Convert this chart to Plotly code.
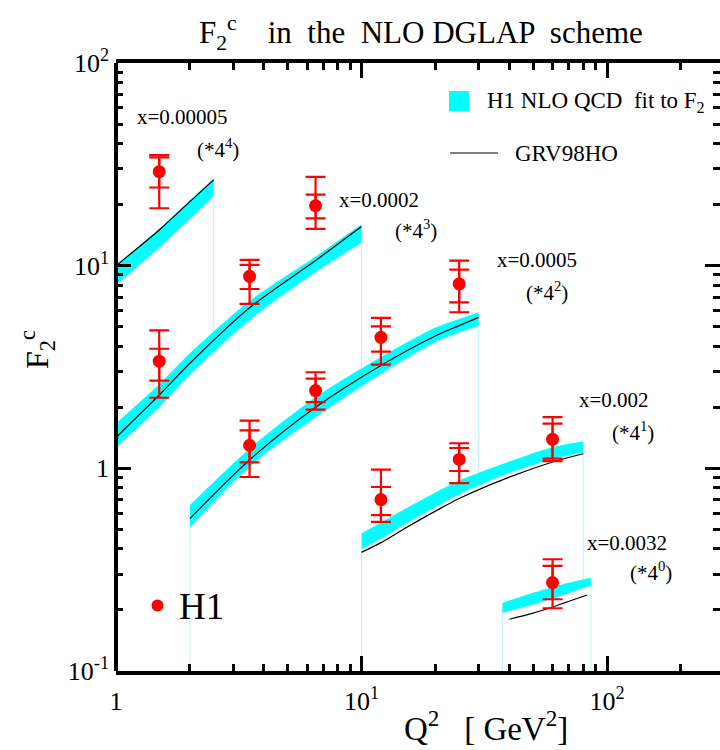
import plotly.graph_objects as go

# ---------------------------------------------------------------------------
# Figure geometry (pixels)
W, H = 720, 750
L, T = 116, 63
PW, PH = 604, 608
X_SPAN = PW / 245.5          # decades of Q^2 shown
SERIF = "Liberation Serif"

# ---------------------------------------------------------------------------
# H1 NLO QCD fit bands (upper / lower edge) and GRV98HO curves, F2c * 4^n
g1_q2 = [1.0, 1.5, 2.0, 2.5]
g1_fit_hi = [10.0, 15.2, 21.0, 27.0]
g1_fit_lo = [8.0, 12.3, 17.0, 22.1]
g1_grv = [10.0, 15.0, 20.7, 26.5]

g2_q2 = [1.0, 1.5, 2.0, 3.5, 6.5, 10.0]
g2_fit_hi = [1.67, 2.6, 3.7, 6.7, 11.1, 16.0]
g2_fit_lo = [1.27, 2.0, 2.9, 5.4, 9.3, 13.0]
g2_grv = [1.42, 2.3, 3.3, 6.2, 10.6, 15.6]

g3_q2 = [2.0, 3.5, 6.5, 12.0, 20.0, 25.0, 30.0]
g3_fit_hi = [0.66, 1.25, 2.24, 3.54, 4.95, 5.46, 5.89]
g3_fit_lo = [0.51, 1.02, 1.79, 2.93, 4.2, 4.69, 5.06]
g3_grv = [0.565, 1.10, 2.0, 3.22, 4.5, 5.06, 5.56]

g4_q2 = [10.0, 12.0, 15.0, 20.0, 25.0, 40.0, 60.0, 80.0]
g4_fit_hi = [0.477, 0.54, 0.63, 0.76, 0.87, 1.08, 1.27, 1.36]
g4_fit_lo = [0.40, 0.45, 0.53, 0.645, 0.745, 0.95, 1.115, 1.20]
g4_grv = [0.385, 0.43, 0.505, 0.615, 0.71, 0.905, 1.075, 1.18]

g5_q2 = [37.5, 50.0, 60.0, 86.0]
g5_fit_hi = [0.217, 0.243, 0.260, 0.289]
g5_fit_lo = [0.194, 0.213, 0.228, 0.265]
g5_grv_q2 = [40.0, 50.0, 60.0, 83.0]
g5_grv = [0.180, 0.193, 0.207, 0.237]

# ---------------------------------------------------------------------------
# H1 charm data: value, stat (inner) and total (outer) error edges
d1_q2 = [1.5]
d1_f2 = [29.1]
d1_tot_hi = [35.1]
d1_stat_hi = [34.2]
d1_stat_lo = [24.3]
d1_tot_lo = [19.2]

d2_q2 = [1.5, 3.5, 6.5]
d2_f2 = [3.38, 8.86, 19.75]
d2_tot_hi = [4.79, 10.67, 27.4]
d2_stat_hi = [3.89, 10.08, 22.4]
d2_stat_lo = [2.71, 7.67, 17.1]
d2_tot_lo = [2.23, 6.48, 15.2]

d3_q2 = [3.5, 6.5, 12.0, 25.0]
d3_f2 = [1.30, 2.42, 4.43, 8.13]
d3_tot_hi = [1.72, 2.98, 5.53, 10.6]
d3_stat_hi = [1.54, 2.77, 5.02, 9.55]
d3_stat_lo = [1.07, 2.12, 3.77, 6.59]
d3_tot_lo = [0.906, 1.95, 3.25, 5.89]

d4_q2 = [12.0, 25.0, 60.0]
d4_f2 = [0.701, 1.107, 1.39]
d4_tot_hi = [0.985, 1.33, 1.79]
d4_stat_hi = [0.809, 1.26, 1.66]
d4_stat_lo = [0.587, 0.97, 1.116]
d4_tot_lo = [0.544, 0.846, 1.086]

d5_q2 = [60.0]
d5_f2 = [0.273]
d5_tot_hi = [0.356]
d5_stat_hi = [0.330]
d5_stat_lo = [0.226]
d5_tot_lo = [0.204]

# Bin labels and scale factors
bin_labels = ["x=0.00005", "x=0.0002", "x=0.0005", "x=0.002", "x=0.0032"]
bin_scales = ["(*4<sup>4</sup>)", "(*4<sup>3</sup>)", "(*4<sup>2</sup>)",
              "(*4<sup>1</sup>)", "(*4<sup>0</sup>)"]

x_tickvals = [1, 10, 100]
x_ticktext = ["1", "10<sup>1</sup>", "10<sup>2</sup>"]
y_tickvals = [0.1, 1, 10, 100]
y_ticktext = ["10<sup>-1</sup>", "1", "10<sup>1</sup>", "10<sup>2</sup>"]

Y_FLOOR = 0.05  # below the visible range, used to close the outlines

bands = [
    (g1_q2, g1_fit_hi, g1_fit_lo),
    (g2_q2, g2_fit_hi, g2_fit_lo),
    (g3_q2, g3_fit_hi, g3_fit_lo),
    (g4_q2, g4_fit_hi, g4_fit_lo),
    (g5_q2, g5_fit_hi, g5_fit_lo),
]
grv_curves = [
    (g1_q2, g1_grv), (g2_q2, g2_grv), (g3_q2, g3_grv),
    (g4_q2, g4_grv), (g5_grv_q2, g5_grv),
]
data_sets = [
    (d1_q2, d1_f2, d1_tot_hi, d1_stat_hi, d1_stat_lo, d1_tot_lo),
    (d2_q2, d2_f2, d2_tot_hi, d2_stat_hi, d2_stat_lo, d2_tot_lo),
    (d3_q2, d3_f2, d3_tot_hi, d3_stat_hi, d3_stat_lo, d3_tot_lo),
    (d4_q2, d4_f2, d4_tot_hi, d4_stat_hi, d4_stat_lo, d4_tot_lo),
    (d5_q2, d5_f2, d5_tot_hi, d5_stat_hi, d5_stat_lo, d5_tot_lo),
]

fig = go.Figure()

# White-filled outlines dropping from each band to the bottom of the frame
for q, hi, lo in bands:
    fig.add_trace(go.Scatter(
        x=[q[0]] + q + [q[-1], q[0]],
        y=[Y_FLOOR] + lo + [Y_FLOOR, Y_FLOOR],
        mode="lines", fill="toself", fillcolor="white",
        line=dict(color="#b8f4f4", width=1),
        hoverinfo="skip", showlegend=False))

# Fit uncertainty bands (lower edge, then upper edge filled down to it)
for q, hi, lo in bands:
    fig.add_trace(go.Scatter(
        x=q, y=lo, mode="lines",
        line=dict(width=0, shape="spline", smoothing=0.8, color="#00ffff"),
        hoverinfo="skip", showlegend=False))
    fig.add_trace(go.Scatter(
        x=q, y=hi, mode="lines", fill="tonexty", fillcolor="#00ffff",
        line=dict(width=0, shape="spline", smoothing=0.8, color="#00ffff"),
        hoverinfo="skip", showlegend=False))

# GRV98HO predictions
for q, f in grv_curves:
    fig.add_trace(go.Scatter(
        x=q, y=f, mode="lines",
        line=dict(color="black", width=1.2, shape="spline", smoothing=0.8),
        hoverinfo="skip", showlegend=False))

# H1 measurements: total errors, then statistical errors with the markers
RED = "#ff0000"
for q, f, thi, shi, slo, tlo in data_sets:
    fig.add_trace(go.Scatter(
        x=q, y=f, mode="markers", marker=dict(size=1, color=RED, opacity=0),
        error_y=dict(type="data", symmetric=False,
                     array=[a - b for a, b in zip(thi, f)],
                     arrayminus=[b - a for a, b in zip(tlo, f)],
                     color=RED, thickness=2.2, width=10),
        hoverinfo="skip", showlegend=False))
    fig.add_trace(go.Scatter(
        x=q, y=f, mode="markers", marker=dict(size=13, color=RED),
        error_y=dict(type="data", symmetric=False,
                     array=[a - b for a, b in zip(shi, f)],
                     arrayminus=[b - a for a, b in zip(slo, f)],
                     color=RED, thickness=2.2, width=10),
        hoverinfo="skip", showlegend=False))


def px(xp):
    return (xp - L) / PW


def py(yp):
    return (T + PH - yp) / PH


def text(x, y, s, size=21, anchor="left", angle=0):
    fig.add_annotation(x=px(x), y=py(y), xref="paper", yref="paper",
                       text=s, showarrow=False, xanchor=anchor,
                       yanchor="middle", textangle=angle,
                       font=dict(family=SERIF, size=size, color="black"))


# Bin labels
label_pos = [(135, 117), (337, 200), (495, 260), (577, 400), (585, 543)]
scale_pos = [(195, 148), (393, 229), (524, 291), (610, 432), (628, 571)]
for (lx, ly), lab in zip(label_pos, bin_labels):
    text(lx, ly, lab, 21)
for (sx, sy), lab in zip(scale_pos, bin_scales):
    text(sx, sy, lab, 21)

# Legend, top right
fig.add_shape(type="rect", xref="paper", yref="paper",
              x0=px(449), x1=px(469), y0=py(111), y1=py(91),
              fillcolor="#00ffff", line=dict(width=0))
text(485, 102, "H1 NLO QCD  fit to F<sub>2</sub>", 23)
fig.add_shape(type="line", xref="paper", yref="paper",
              x0=px(450), x1=px(498), y0=py(153), y1=py(153),
              line=dict(color="black", width=1.2))
text(513, 153, "GRV98HO", 23)

# Legend, bottom left
fig.add_shape(type="circle", xref="paper", yref="paper",
              x0=px(151.5), x1=px(163.5), y0=py(599.5), y1=py(611.5),
              fillcolor=RED, line=dict(width=0))
text(177, 606, "H1", 37)

# Titles
text(421, 33, "F<sub>2</sub><sup>c</sup>    in  the  NLO DGLAP  scheme", 31,
     anchor="center")
text(486, 726, "Q<sup>2</sup>   [ GeV<sup>2</sup>]", 33, anchor="center")
text(37, 350, "F<sub>2</sub><sup>c</sup>", 32, anchor="center", angle=-90)

# Left frame edge (the right edge sits outside the page)
fig.add_shape(type="line", xref="paper", yref="paper", x0=0, x1=0,
              y0=0, y1=1, line=dict(color="black", width=4), layer="above")

axis_common = dict(
    type="log", showgrid=False, zeroline=False,
    ticks="inside", ticklen=15, tickwidth=3, tickcolor="black",
    tickfont=dict(family=SERIF, size=26, color="black"),
    tickmode="array",
)

fig.update_xaxes(
    **axis_common, range=[0, X_SPAN],
    showline=True, linewidth=4, linecolor="black", mirror="ticks",
    tickvals=x_tickvals, ticktext=x_ticktext, ticklabelstandoff=4,
    minor=dict(tickvals=[2, 3, 4, 5, 6, 7, 8, 9, 20, 30, 40, 50, 60, 70,
                         80, 90, 200],
               ticks="inside", ticklen=7, tickwidth=2.5, tickcolor="black"),
)
fig.update_yaxes(
    **axis_common, range=[-1, 2],
    showline=False, mirror="ticks",
    tickvals=y_tickvals, ticktext=y_ticktext, ticklabelstandoff=6,
    minor=dict(tickvals=[0.2, 0.3, 0.4, 0.5, 0.6, 0.7, 0.8, 0.9,
                         2, 3, 4, 5, 6, 7, 8, 9, 20, 30, 40, 50, 60, 70,
                         80, 90],
               ticks="inside", ticklen=7, tickwidth=2.5, tickcolor="black"),
)

fig.update_layout(
    width=W, height=H,
    margin=dict(l=L, r=W - L - PW, t=T, b=H - T - PH, pad=0),
    paper_bgcolor="white", plot_bgcolor="white",
    showlegend=False,
)

fig.write_html("out.html")
